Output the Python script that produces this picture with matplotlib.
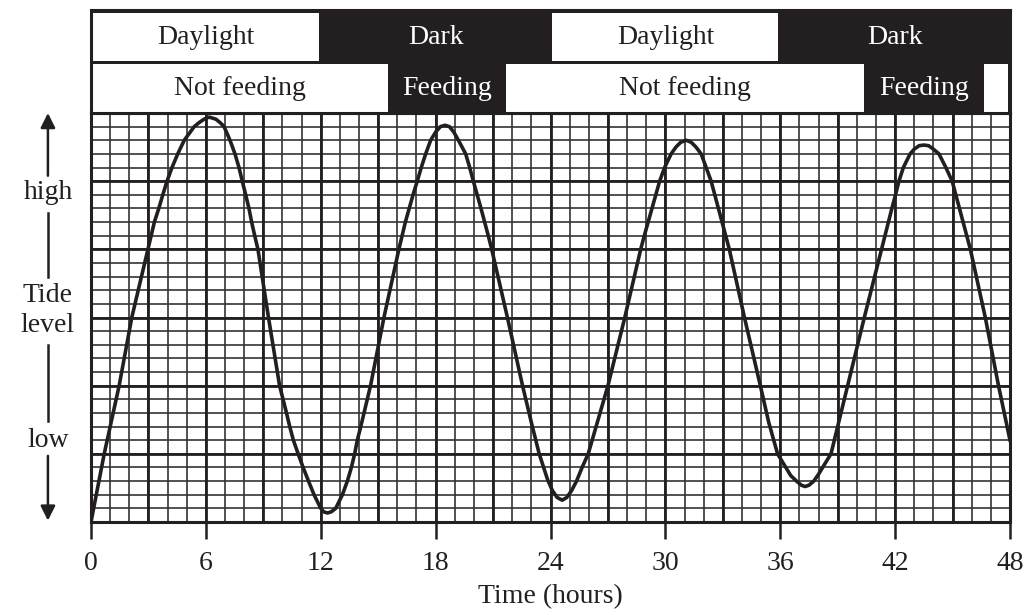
import numpy as np
import matplotlib.pyplot as plt
from matplotlib.patches import Rectangle

plt.rcParams['font.family'] = ['Liberation Serif', 'DejaVu Serif']

# tide curve (x in hours, y in grid squares, 30 = top)
hours = [0, 0.69, 1.47, 2.13, 2.97, 3.14, 3.31, 3.54, 3.75, 3.97, 4.23, 4.53, 4.87,
         5.39, 5.65, 5.91, 6.17, 6.52, 6.78, 6.95, 7.26, 7.52, 7.73, 7.9, 8.08, 8.25,
         8.39, 8.55, 8.72, 9.27, 9.85, 10.03, 10.21, 10.38, 10.57, 10.82, 11.08, 11.36,
         11.65, 12.0, 12.15, 12.35, 12.55, 12.78, 13.13, 13.39, 13.6, 13.77, 13.91,
         14.09, 14.26, 14.43, 14.6, 15.3, 16.08, 16.25, 16.42, 16.62, 16.82, 17.04,
         17.25, 17.48, 17.74, 18.0, 18.25, 18.49, 18.72, 18.95, 19.19, 19.57, 19.78,
         19.97, 20.17, 20.37, 20.56, 20.75, 20.93, 21.75, 22.54, 23.0, 23.41, 23.85,
         24.1, 24.35, 24.61, 24.85, 25.1, 25.36, 25.65, 25.97, 27.0, 27.88, 28.71,
         28.9, 29.1, 29.3, 29.5, 29.7, 29.96, 30.3, 30.55, 30.8, 31.09, 31.35, 31.6,
         31.87, 32.13, 32.39, 32.58, 32.77, 32.96, 33.15, 33.34, 34.13, 34.96, 35.4,
         35.86, 36.25, 36.55, 36.85, 37.1, 37.3, 37.5, 37.75, 38.0, 38.3, 38.65, 39.52,
         40.39, 41.29, 41.47, 41.65, 41.83, 42.02, 42.2, 42.43, 42.78, 43.0, 43.25,
         43.5, 43.75, 44.0, 44.29, 44.65, 44.98, 45.17, 45.36, 45.55, 45.74, 45.93,
         46.71, 47.4, 48]
tide = [0, 5, 10, 15, 20, 21, 22, 23, 24, 25, 26, 27, 28,
        29, 29.3, 29.55, 29.7, 29.55, 29.25, 29, 28, 27, 26, 25, 24, 23,
        22, 21, 20, 15, 10, 9, 8, 7, 6, 5, 4, 3,
        2, 1, 0.75, 0.66, 0.75, 1, 2, 3, 4, 5, 6,
        7, 8, 9, 10, 15, 20, 21, 22, 23, 24, 25,
        26, 27, 28, 28.6, 29.0, 29.1, 29.0, 28.6, 28, 27, 26,
        25, 24, 23, 22, 21, 20, 15, 10, 7.3, 5, 3.1,
        2.3, 1.8, 1.6, 1.8, 2.3, 3, 4, 5, 10, 15, 20,
        21, 22, 23, 24, 25, 26, 27, 27.5, 27.85, 28, 27.85, 27.5,
        27, 26, 25, 24, 23, 22, 21, 20, 15, 10, 7.3,
        5, 4.1, 3.4, 3.0, 2.7, 2.6, 2.7, 3.0, 3.5, 4.2, 5, 10,
        15, 20, 21, 22, 23, 24, 25, 26, 27, 27.35, 27.6,
        27.65, 27.6, 27.35, 27, 26, 25, 24, 23, 22, 21, 20,
        15, 10, 6]

light_edges = [0, 12, 24, 36, 48]
light_labels = ['Daylight', 'Dark', 'Daylight', 'Dark']
feed_edges = [0, 15.6, 21.6, 40.45, 46.55, 48]
feed_labels = ['Not feeding', 'Feeding', 'Not feeding', 'Feeding', '']
time_ticks = [0, 6, 12, 18, 24, 30, 36, 42, 48]

INK = '#231f20'
W, H = 1026, 615
FS = 20

fig = plt.figure(figsize=(W / 100, H / 100), dpi=100)
ax = fig.add_axes([91 / W, 1 - 522 / H, 919 / W, 409 / H])
hdr = fig.add_axes([91 / W, 1 - 113 / H, 919 / W, 103 / H])

# graph paper
ax.vlines(np.arange(0, 49, 1), 0, 30, color='#333333', lw=1.2, zorder=1)
ax.hlines(np.arange(0, 31, 1), 0, 48, color='#333333', lw=1.2, zorder=1)
ax.vlines(np.arange(0, 49, 3), 0, 30, color=INK, lw=2.0, zorder=2, clip_on=False)
ax.hlines(np.arange(0, 31, 5), 0, 48, color=INK, lw=2.0, zorder=2, clip_on=False)

ax.plot(hours, tide, color=INK, lw=2.6, zorder=3, solid_joinstyle='round')

ax.set_xlim(0, 48)
ax.set_ylim(0, 30)
ax.set_xticks(time_ticks)
ax.set_xticklabels([str(t) for t in time_ticks], fontsize=FS, color=INK)
ax.set_yticks([])
ax.tick_params(axis='x', length=12, width=1.8, color=INK, pad=9)
for s in ax.spines.values():
    s.set_color(INK)
    s.set_linewidth(2.2)

fig.text(550 / W, 1 - 597 / H, 'Time (hours)', ha='center', va='center',
         fontsize=FS, color=INK)

# tide level arrow on the left, broken by its labels
ax_x = -2.25
arr = dict(arrowstyle='-|>', color=INK, lw=1.8, mutation_scale=22, shrinkA=0, shrinkB=0)
ax.annotate('', xy=(ax_x, 30), xytext=(ax_x, 25.4), arrowprops=arr, annotation_clip=False)
ax.annotate('', xy=(ax_x, 0.1), xytext=(ax_x, 4.85), arrowprops=arr, annotation_clip=False)
ax.plot([ax_x, ax_x], [22.7, 18.0], color=INK, lw=1.8, clip_on=False)
ax.plot([ax_x, ax_x], [13.0, 7.4], color=INK, lw=1.8, clip_on=False)
for txt, yy in [('high', 24.2), ('Tide', 16.6), ('level', 14.4), ('low', 6.0)]:
    ax.text(ax_x, yy, txt, ha='center', va='center', fontsize=FS, color=INK, clip_on=False)

# header bands: black background, white boxes for light/not feeding
hdr.set_facecolor(INK)
hdr.set_xlim(0, 48)
hdr.set_ylim(0, 2)
hdr.set_xticks([])
hdr.set_yticks([])
for s in hdr.spines.values():
    s.set_color(INK)
    s.set_linewidth(2.2)

gap = 0.1
rows = [(light_edges, light_labels, 1.01, 0.93), (feed_edges, feed_labels, 0.02, 0.93)]
for edges, labels, y0, h in rows:
    for i, lab in enumerate(labels):
        x0, x1 = edges[i], edges[i + 1]
        dark = lab in ('Dark', 'Feeding')
        if not dark:
            hdr.add_patch(Rectangle((x0 + gap, y0), x1 - x0 - 2 * gap, h,
                                    facecolor='white', edgecolor='none'))
        if lab:
            hdr.text((x0 + x1) / 2, y0 + h / 2, lab, ha='center', va='center',
                     fontsize=FS, color='white' if dark else INK)

fig.savefig('out.png', dpi=100)
